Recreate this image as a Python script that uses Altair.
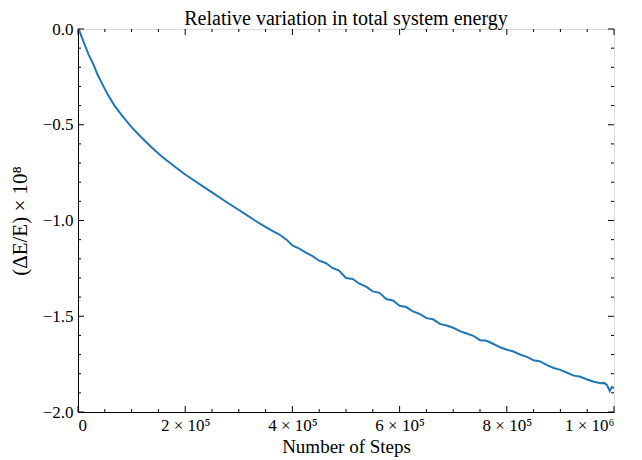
import altair as alt
import pandas as pd

# ---- data ----
steps = [0, 2000, 6000, 10000, 15000, 20000, 28000, 36000, 44000, 55000,
         68000, 83000, 99000, 118000, 138000, 158000, 179000, 200000, 224000,
         250000, 274000, 300000, 315000, 330000, 345000, 360000, 375000, 389000,
         400000, 412000, 425000, 437000, 450000, 462000, 475000, 487000, 500000,
         512500, 525000, 537500, 550000, 562500, 575000, 587500, 600000, 612500,
         625000, 637500, 650000, 662500, 675000, 687500, 700000, 712500, 725000,
         737500, 750000, 762500, 775000, 787500, 800000, 812500, 825000, 837500,
         850000, 862500, 875000, 887500, 900000, 912500, 925000, 937500, 950000,
         962500, 975000, 982000, 987000, 992000, 996000, 1000000]
energy = [0.0, -0.006, -0.035, -0.065, -0.10, -0.135, -0.18, -0.235, -0.28, -0.34,
          -0.40, -0.455, -0.51, -0.565, -0.62, -0.67, -0.715, -0.76, -0.805,
          -0.853, -0.898, -0.945, -0.972, -1.00, -1.025, -1.05, -1.072, -1.10,
          -1.13, -1.145, -1.168, -1.185, -1.21, -1.222, -1.248, -1.262, -1.30,
          -1.305, -1.33, -1.345, -1.37, -1.378, -1.41, -1.418, -1.445, -1.452,
          -1.475, -1.488, -1.51, -1.516, -1.54, -1.548, -1.56, -1.578, -1.59,
          -1.602, -1.625, -1.628, -1.645, -1.662, -1.675, -1.684, -1.70, -1.712,
          -1.73, -1.736, -1.755, -1.770, -1.78, -1.795, -1.81, -1.816, -1.83,
          -1.842, -1.85, -1.848, -1.86, -1.89, -1.87, -1.875]

x_major = [0, 200000, 400000, 600000, 800000, 1000000]
x_minor = [50000, 100000, 150000, 250000, 300000, 350000, 450000, 500000,
           550000, 650000, 700000, 750000, 850000, 900000, 950000]
y_major = [0.0, -0.5, -1.0, -1.5, -2.0]
y_minor = [-0.1, -0.2, -0.3, -0.4, -0.6, -0.7, -0.8, -0.9, -1.1, -1.2, -1.3,
           -1.4, -1.6, -1.7, -1.8, -1.9]

W, H = 536, 383
FONT = "Liberation Serif"

df = pd.DataFrame({"steps": steps, "energy": energy})

xs = alt.Scale(domain=[0, 1000000], nice=False, zero=False)
ys = alt.Scale(domain=[-2.0, 0.0], nice=False, zero=False)

line = alt.Chart(df).mark_line(color="#1f77b4", strokeWidth=2, clip=True).encode(
    x=alt.X("steps:Q", scale=xs, title="Number of Steps",
            axis=alt.Axis(values=x_major, ticks=False, grid=False,
                          domainColor="black", labelColor="black",
                          labelFont=FONT, labelFontSize=17, labelPadding=5,
                          titleFont=FONT, titleFontSize=19, titleFontWeight="normal",
                          titleColor="black", titlePadding=4,
                          labelExpr="datum.value == 0 ? '0' : (datum.value == 1000000 ? '1 × 10⁶' : format(datum.value/100000, 'd') + ' × 10⁵')")),
    y=alt.Y("energy:Q", scale=ys, title="(ΔE/E) × 10⁸",
            axis=alt.Axis(values=y_major, ticks=False, grid=False,
                          domainColor="black", labelColor="black",
                          labelExpr="replace(format(datum.value, '.1f'), '-', '−')",
                          labelFont=FONT, labelFontSize=17, labelPadding=5,
                          titleFont=FONT, titleFontSize=21, titleFontWeight="normal",
                          titleColor="black", titlePadding=12)),
)

def xticks(vals, length, top):
    d = pd.DataFrame({"v": vals})
    y0, y1 = (0, length) if top else (H, H - length)
    return alt.Chart(d).mark_rule(color="black", strokeWidth=1).encode(
        x=alt.X("v:Q", scale=xs), y=alt.value(y0), y2=alt.value(y1))

def yticks(vals, length, right):
    d = pd.DataFrame({"v": vals})
    x0, x1 = (W, W - length) if right else (0, length)
    return alt.Chart(d).mark_rule(color="black", strokeWidth=1).encode(
        y=alt.Y("v:Q", scale=ys), x=alt.value(x0), x2=alt.value(x1))

layers = [line]
for top in (False, True):
    layers.append(xticks(x_major, 6, top))
    layers.append(xticks(x_minor, 3, top))
for right in (False, True):
    layers.append(yticks(y_major, 6, right))
    layers.append(yticks(y_minor, 3, right))

chart = alt.layer(*layers).properties(
    width=W, height=H,
    title=alt.TitleParams("Relative variation in total system energy",
                          font=FONT, fontSize=20, fontWeight="normal",
                          color="black", anchor="middle", offset=-9, frame="group"),
    autosize=alt.AutoSizeParams(type="none"),
    padding={"left": 70, "top": 21, "right": 20, "bottom": 46},
).configure_view(stroke="black", strokeWidth=1.2).configure(background="white")

chart.save("out.html", embed_options={"renderer": "svg", "actions": False})
